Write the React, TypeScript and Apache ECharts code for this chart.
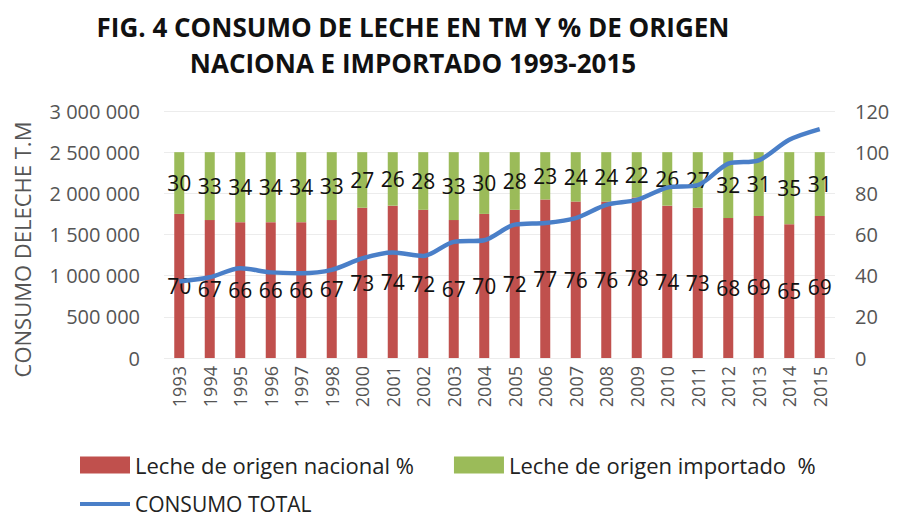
import React, { useEffect, useRef } from "react";
import * as echarts from "echarts";

const years = ["1993","1994","1995","1996","1997","1998","2000","2001","2002","2003","2004","2005","2006","2007","2008","2009","2010","2011","2012","2013","2014","2015"];
const nacional = [70,67,66,66,66,67,73,74,72,67,70,72,77,76,76,78,74,73,68,69,65,69];
const importado = [30,33,34,34,34,33,27,26,28,33,30,28,23,24,24,22,26,27,32,31,35,31];
const consumoTotal = [930000,980000,1090000,1040000,1030000,1070000,1210000,1280000,1240000,1410000,1430000,1620000,1640000,1700000,1860000,1920000,2070000,2100000,2360000,2400000,2650000,2780000];

const FONT = "'Open Sans', sans-serif";

export default function App() {
  const ref = useRef<HTMLDivElement>(null);
  useEffect(() => {
    if (!ref.current) return;
    const chart = echarts.init(ref.current, null, { renderer: "svg" });
    const labelStyle = {
      show: true,
      position: "inside",
      color: "#111",
      fontSize: 21,
      fontFamily: FONT,
    };
    chart.setOption({
      animation: false,
      textStyle: { fontFamily: FONT },
      title: {
        text: "FIG. 4 CONSUMO DE LECHE EN TM Y % DE ORIGEN\nNACIONA E IMPORTADO 1993-2015",
        left: 408,
        textAlign: "center",
        top: 4,
        textStyle: { fontSize: 26, fontWeight: "bold", color: "#111", fontFamily: FONT, lineHeight: 36 },
      },
      grid: { left: 164, right: 62, top: 111, bottom: 159 },
      legend: [
        {
          data: ["Leche de origen nacional %", "Leche de origen importado  %"],
          left: 75,
          top: 449,
          itemWidth: 50,
          itemHeight: 17,
          itemGap: 40,
          icon: "rect",
          textStyle: { fontSize: 22, color: "#222", fontFamily: FONT },
        },
        {
          data: [{ name: "CONSUMO TOTAL", icon: "rect" }],
          left: 75,
          top: 487,
          itemWidth: 50,
          itemHeight: 4,
          textStyle: { fontSize: 21, lineHeight: 24, color: "#222", fontFamily: FONT },
        },
      ],
      xAxis: {
        type: "category",
        data: years,
        axisTick: { show: false },
        axisLine: { show: false },
        axisLabel: { rotate: 90, fontSize: 18, color: "#555", margin: 8, interval: 0 },
      },
      yAxis: [
        {
          type: "value",
          min: 0,
          max: 3000000,
          interval: 500000,
          name: "CONSUMO DELECHE T.M",
          nameLocation: "middle",
          nameGap: 131,
          nameTextStyle: { fontSize: 22, color: "#555", fontFamily: FONT, padding: [0, 30, 0, 0] },
          axisLabel: {
            fontSize: 20,
            color: "#555",
            margin: 24,
            formatter: (v: number) => v.toLocaleString("en-US").replace(/,/g, " "),
          },
          splitLine: { lineStyle: { color: "#ececec" } },
          axisLine: { show: false },
          axisTick: { show: false },
        },
        {
          type: "value",
          min: 0,
          max: 120,
          interval: 20,
          position: "right",
          axisLabel: { fontSize: 20, color: "#555", margin: 20 },
          splitLine: { show: false },
          axisLine: { show: false },
          axisTick: { show: false },
        },
      ],
      series: [
        {
          name: "Leche de origen nacional %",
          type: "bar",
          stack: "pct",
          yAxisIndex: 1,
          barWidth: 10,
          data: nacional,
          itemStyle: { color: "#c0504d" },
          label: labelStyle,
        },
        {
          name: "Leche de origen importado  %",
          type: "bar",
          stack: "pct",
          yAxisIndex: 1,
          barWidth: 10,
          data: importado,
          itemStyle: { color: "#9bbb59" },
          label: labelStyle,
        },
        {
          name: "CONSUMO TOTAL",
          type: "line",
          yAxisIndex: 0,
          data: consumoTotal,
          smooth: 0.3,
          symbol: "none",
          lineStyle: { color: "#4a7fc8", width: 4.5 },
          itemStyle: { color: "#4a7fc8" },
          z: 5,
        },
      ],
    });
    return () => chart.dispose();
  }, []);
  return <div ref={ref} style={{ width: 897, height: 517, position: "absolute", left: 0, top: 0, background: "#fff" }} />;
}
